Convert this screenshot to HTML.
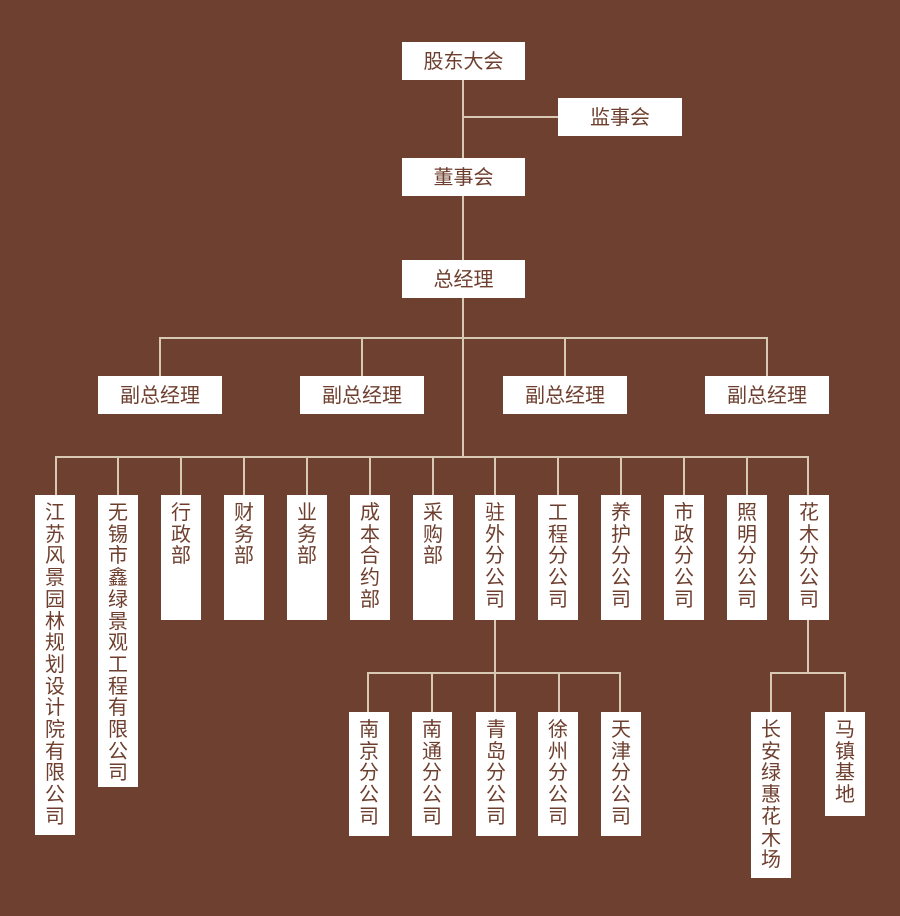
<!DOCTYPE html>
<html><head><meta charset="utf-8"><style>
body{margin:0;}
#c{position:relative;width:900px;height:916px;background:#6e4030;overflow:hidden;font-family:"Liberation Sans","Noto Sans CJK SC",sans-serif;}
.b{position:absolute;background:#fff;color:#6e3f2e;text-align:center;}
.h{height:38px;line-height:40px;font-size:20px;}
.v{width:40px;font-size:20px;line-height:21.7px;padding-top:8px;box-sizing:border-box;}
.l{position:absolute;background:#d8c9b5;}
</style></head><body><div id="c">
<div class="l" style="left:462px;top:80px;width:2px;height:377px"></div>
<div class="l" style="left:463px;top:116px;width:95px;height:2px"></div>
<div class="l" style="left:159px;top:337px;width:609px;height:2px"></div>
<div class="l" style="left:159px;top:337px;width:2px;height:40px"></div>
<div class="l" style="left:361px;top:337px;width:2px;height:40px"></div>
<div class="l" style="left:564px;top:337px;width:2px;height:40px"></div>
<div class="l" style="left:766px;top:337px;width:2px;height:40px"></div>
<div class="l" style="left:55px;top:456px;width:754px;height:2px"></div>
<div class="l" style="left:55px;top:456px;width:2px;height:40px"></div>
<div class="l" style="left:117px;top:456px;width:2px;height:40px"></div>
<div class="l" style="left:180px;top:456px;width:2px;height:40px"></div>
<div class="l" style="left:243px;top:456px;width:2px;height:40px"></div>
<div class="l" style="left:306px;top:456px;width:2px;height:40px"></div>
<div class="l" style="left:369px;top:456px;width:2px;height:40px"></div>
<div class="l" style="left:432px;top:456px;width:2px;height:40px"></div>
<div class="l" style="left:494px;top:456px;width:2px;height:256px"></div>
<div class="l" style="left:557px;top:456px;width:2px;height:40px"></div>
<div class="l" style="left:620px;top:456px;width:2px;height:40px"></div>
<div class="l" style="left:683px;top:456px;width:2px;height:40px"></div>
<div class="l" style="left:746px;top:456px;width:2px;height:40px"></div>
<div class="l" style="left:807px;top:456px;width:2px;height:217px"></div>
<div class="l" style="left:367px;top:672px;width:254px;height:2px"></div>
<div class="l" style="left:367px;top:672px;width:2px;height:40px"></div>
<div class="l" style="left:431px;top:672px;width:2px;height:40px"></div>
<div class="l" style="left:558px;top:672px;width:2px;height:40px"></div>
<div class="l" style="left:619px;top:672px;width:2px;height:40px"></div>
<div class="l" style="left:770px;top:672px;width:76px;height:2px"></div>
<div class="l" style="left:770px;top:672px;width:2px;height:40px"></div>
<div class="l" style="left:844px;top:672px;width:2px;height:40px"></div>
<div class="b h" style="left:402px;top:42px;width:123px">股东大会</div>
<div class="b h" style="left:558px;top:98px;width:124px">监事会</div>
<div class="b h" style="left:402px;top:158px;width:123px">董事会</div>
<div class="b h" style="left:402px;top:260px;width:123px">总经理</div>
<div class="b h" style="left:98px;top:376px;width:124px">副总经理</div>
<div class="b h" style="left:300px;top:376px;width:124px">副总经理</div>
<div class="b h" style="left:503px;top:376px;width:124px">副总经理</div>
<div class="b h" style="left:705px;top:376px;width:124px">副总经理</div>
<div class="b v" style="left:35px;top:495px;height:340px">江<br>苏<br>风<br>景<br>园<br>林<br>规<br>划<br>设<br>计<br>院<br>有<br>限<br>公<br>司</div>
<div class="b v" style="left:98px;top:495px;height:292px">无<br>锡<br>市<br>鑫<br>绿<br>景<br>观<br>工<br>程<br>有<br>限<br>公<br>司</div>
<div class="b v" style="left:161px;top:495px;height:125px">行<br>政<br>部</div>
<div class="b v" style="left:224px;top:495px;height:125px">财<br>务<br>部</div>
<div class="b v" style="left:287px;top:495px;height:125px">业<br>务<br>部</div>
<div class="b v" style="left:350px;top:495px;height:125px">成<br>本<br>合<br>约<br>部</div>
<div class="b v" style="left:413px;top:495px;height:125px">采<br>购<br>部</div>
<div class="b v" style="left:475px;top:495px;height:125px">驻<br>外<br>分<br>公<br>司</div>
<div class="b v" style="left:538px;top:495px;height:125px">工<br>程<br>分<br>公<br>司</div>
<div class="b v" style="left:601px;top:495px;height:125px">养<br>护<br>分<br>公<br>司</div>
<div class="b v" style="left:664px;top:495px;height:125px">市<br>政<br>分<br>公<br>司</div>
<div class="b v" style="left:727px;top:495px;height:125px">照<br>明<br>分<br>公<br>司</div>
<div class="b v" style="left:789px;top:495px;height:125px">花<br>木<br>分<br>公<br>司</div>
<div class="b v" style="left:349px;top:712px;height:124px">南<br>京<br>分<br>公<br>司</div>
<div class="b v" style="left:412px;top:712px;height:124px">南<br>通<br>分<br>公<br>司</div>
<div class="b v" style="left:476px;top:712px;height:124px">青<br>岛<br>分<br>公<br>司</div>
<div class="b v" style="left:538px;top:712px;height:124px">徐<br>州<br>分<br>公<br>司</div>
<div class="b v" style="left:601px;top:712px;height:124px">天<br>津<br>分<br>公<br>司</div>
<div class="b v" style="left:751px;top:712px;height:166px">长<br>安<br>绿<br>惠<br>花<br>木<br>场</div>
<div class="b v" style="left:825px;top:712px;height:104px">马<br>镇<br>基<br>地</div>
</div></body></html>
